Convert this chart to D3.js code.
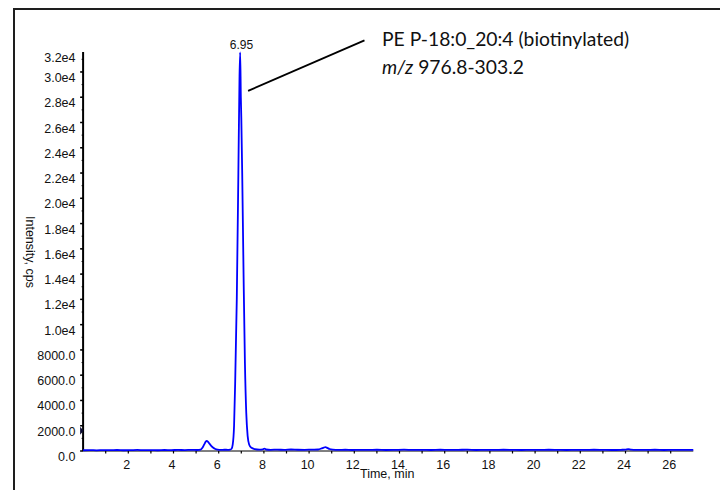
<!DOCTYPE html>
<html>
<head>
<meta charset="utf-8">
<script src="https://cdn.jsdelivr.net/npm/d3@7"></script>
<style>
  html, body { margin: 0; padding: 0; background: #fff; }
  svg { display: block; }
</style>
</head>
<body>
<svg id="chart" width="720" height="490"></svg>
<script>
// Extracted ion chromatogram: retention time (min) vs. intensity (cps)
const times = [0.00,0.30,0.60,0.90,1.20,1.50,1.80,2.10,2.40,2.70,3.00,3.30,3.60,3.90,4.20,4.50,4.80,
  5.05,5.20,5.28,5.36,5.42,5.47,5.53,5.60,5.68,5.76,5.85,5.95,6.10,6.25,6.40,6.50,
  6.57,6.62,6.68,6.73,6.80,6.87,6.92,6.95,6.98,7.00,7.04,7.10,7.16,7.22,7.28,7.35,7.45,7.60,7.80,
  7.95,8.02,8.10,8.30,8.60,8.90,9.20,9.50,9.80,10.10,10.40,10.55,10.65,10.72,10.80,10.90,11.05,
  11.30,11.60,11.90,12.20,12.60,13.00,13.40,13.80,14.20,14.60,15.00,15.40,15.80,16.20,16.60,17.00,
  17.40,17.80,18.20,18.60,19.00,19.40,19.80,20.20,20.60,21.00,21.40,21.80,22.20,22.60,23.00,23.40,
  23.80,24.00,24.12,24.25,24.50,24.90,25.30,25.70,26.10,26.50,27.00];
const intensity = [60,70,55,75,65,80,60,70,85,65,75,60,80,70,85,75,90,
  80,110,250,520,720,800,720,560,380,250,160,110,90,100,95,110,
  180,500,2000,5500,12000,22000,29500,31550,28000,26400,22000,14000,7000,3000,1200,500,250,150,110,
  130,190,120,95,110,90,120,100,95,110,120,200,270,300,250,160,110,
  90,100,80,95,85,100,80,90,105,85,95,80,100,85,90,105,
  80,95,85,100,90,80,95,85,100,90,80,95,85,100,90,80,
  95,110,150,110,90,85,100,80,95,85,90];

// Axis ticks
const xTickValues = [2,4,6,8,10,12,14,16,18,20,22,24,26];
const yTickValues = [0,2000,4000,6000,8000,10000,12000,14000,16000,18000,20000,22000,24000,26000,28000,30000];
const yTickLabels = ["0.0","2000.0","4000.0","6000.0","8000.0","1.0e4","1.2e4","1.4e4","1.6e4","1.8e4",
  "2.0e4","2.2e4","2.4e4","2.6e4","2.8e4","3.0e4"];
const yMaxLabel = "3.2e4";

const peakLabel = "6.95";
const titleLine1 = "PE P-18:0_20:4 (biotinylated)";
const titleMz = "m/z";
const titleLine2 = " 976.8-303.2";

const svg = d3.select("#chart");
const W = 720, H = 490;

// outer frame
svg.append("rect")
  .attr("x", 14).attr("y", 9).attr("width", W + 20).attr("height", H + 20)
  .attr("fill", "none").attr("stroke", "#1e1e1e").attr("stroke-width", 2);

const xScale = d3.scaleLinear().domain([0, 27.0]).range([83.1, 693.3]);
const yScale = d3.scaleLinear().domain([0, 31580]).range([451, 52]);

const axisFont = "'Liberation Sans', Arial, sans-serif";

// x axis line and ticks
const gx = svg.append("g");
gx.append("line")
  .attr("x1", xScale(0)).attr("x2", xScale(27.0))
  .attr("y1", yScale(0)).attr("y2", yScale(0))
  .attr("stroke", "#000").attr("stroke-width", 1);
gx.selectAll("line.tick").data(d3.range(1, 27))
  .join("line").attr("class", "tick")
  .attr("x1", d => xScale(d)).attr("x2", d => xScale(d))
  .attr("y1", yScale(0)).attr("y2", yScale(0) + 2.5)
  .attr("stroke", "#000").attr("stroke-width", 1.2);
gx.selectAll("text").data(xTickValues)
  .join("text")
  .attr("x", d => xScale(d) - 1.5)
  .attr("y", yScale(0) + 17.5)
  .attr("text-anchor", "middle")
  .attr("font-family", axisFont).attr("font-size", 12.5).attr("fill", "#111")
  .text(d => d);
gx.append("text")
  .attr("x", 360).attr("y", 478)
  .attr("font-family", axisFont).attr("font-size", 12.5).attr("fill", "#111")
  .text("Time, min");

// y axis line, ticks, labels
const gy = svg.append("g");
gy.append("line")
  .attr("x1", xScale(0)).attr("x2", xScale(0))
  .attr("y1", yScale.range()[1]).attr("y2", yScale(0))
  .attr("stroke", "#000").attr("stroke-width", 2);
gy.selectAll("line.minor").data(d3.range(1000, 31580, 1000))
  .join("line").attr("class", "minor")
  .attr("x1", xScale(0) - 1.5).attr("x2", xScale(0))
  .attr("y1", d => yScale(d)).attr("y2", d => yScale(d))
  .attr("stroke", "#000").attr("stroke-width", 1);
gy.selectAll("line.major").data(yTickValues)
  .join("line").attr("class", "major")
  .attr("x1", xScale(0) - 3).attr("x2", xScale(0))
  .attr("y1", d => yScale(d)).attr("y2", d => yScale(d))
  .attr("stroke", "#000").attr("stroke-width", 1.5);
gy.selectAll("text.lab").data(yTickValues)
  .join("text").attr("class", "lab")
  .attr("x", 75.5)
  .attr("y", d => yScale(d) + 10)
  .attr("text-anchor", "end")
  .attr("font-family", axisFont).attr("font-size", 12.5).attr("fill", "#111")
  .text((d, i) => yTickLabels[i]);
gy.append("text")
  .attr("x", 75.5).attr("y", yScale.range()[1] + 9.5)
  .attr("text-anchor", "end")
  .attr("font-family", axisFont).attr("font-size", 12.5).attr("fill", "#111")
  .text(yMaxLabel);
// threshold marker on the intensity axis
const my = yScale(1600);
gy.append("path")
  .attr("d", `M${xScale(0) - 3},${my - 4} L${xScale(0) + 0.5},${my} L${xScale(0) - 3},${my + 4} Z`)
  .attr("fill", "#0a0a30");
// rotated axis title
svg.append("text")
  .attr("transform", "translate(26,252) rotate(90)")
  .attr("text-anchor", "middle")
  .attr("font-family", axisFont).attr("font-size", 12.5).attr("fill", "#111")
  .text("Intensity, cps");

// chromatogram trace
const pts = times.map((t, i) => [t, intensity[i]]);
const line = d3.line()
  .x(d => xScale(d[0]))
  .y(d => yScale(d[1]))
  .curve(d3.curveMonotoneX);
svg.append("path")
  .datum(pts)
  .attr("d", line)
  .attr("fill", "none")
  .attr("stroke", "#0000ff")
  .attr("stroke-width", 1.8)
  .attr("stroke-linejoin", "round");

// apex retention time label
const apexIdx = d3.maxIndex(intensity);
svg.append("text")
  .attr("x", xScale(times[apexIdx]) + 1.3)
  .attr("y", yScale(intensity[apexIdx]) - 3)
  .attr("text-anchor", "middle")
  .attr("font-family", axisFont).attr("font-size", 12).attr("fill", "#111")
  .text(peakLabel);

// compound annotation with leader line
const lx1 = xScale(7.3), ly1 = yScale(28500);
const lx2 = xScale(12.45), ly2 = yScale(32500);
svg.append("line")
  .attr("x1", lx1).attr("y1", ly1).attr("x2", lx2).attr("y2", ly2)
  .attr("stroke", "#000").attr("stroke-width", 1.8);

const annFont = "Lato, 'Open Sans', sans-serif";
svg.append("text")
  .attr("x", 382).attr("y", 46)
  .attr("font-family", annFont).attr("font-size", 19.3).attr("fill", "#111")
  .text(titleLine1);
const t2 = svg.append("text")
  .attr("x", 382).attr("y", 73.5)
  .attr("font-family", annFont).attr("font-size", 19.3).attr("fill", "#111");
t2.append("tspan").attr("font-style", "italic").text(titleMz);
t2.append("tspan").text(titleLine2);
</script>
</body>
</html>
